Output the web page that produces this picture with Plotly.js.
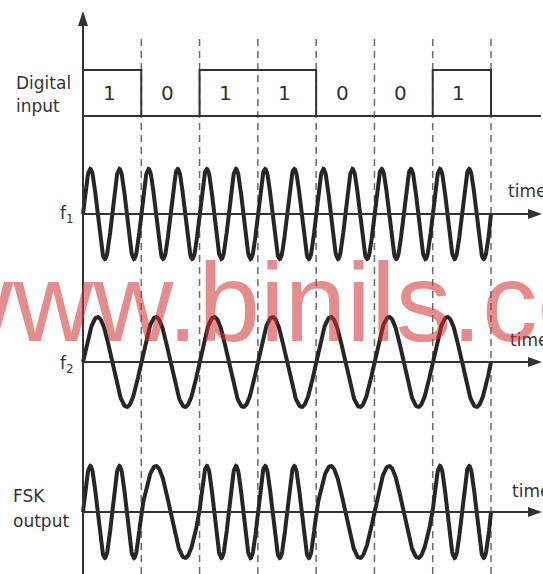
<!DOCTYPE html>
<html>
<head>
<meta charset="utf-8">
<script src="https://cdn.plot.ly/plotly-3.0.1.min.js"></script>
<style>html,body{margin:0;padding:0;background:#fff}#chart{width:543px;height:574px}</style>
</head>
<body>
<div id="chart"></div>
<script>
// ---- data ----
const bits = [1, 0, 1, 1, 0, 0, 1];
const bitLabels = ['1', '0', '1', '1', '0', '0', '1'];
const f1CyclesPerBit = 2;   // f1 carrier: 2 cycles per bit period
const f2CyclesPerBit = 1;   // f2 carrier: 1 cycle per bit period
const rowLabels = ['Digital', 'input', 'f<sub>1</sub>', 'f<sub>2</sub>', 'FSK', 'output'];
const axisLabel = 'time';
const watermark = 'www.binils.co';

// ---- geometry (layout only) ----
const W = 543, H = 574;
const x0px = 83, bitPx = (491 - 83) / 7;
const px2x = p => (p - x0px) / bitPx;
const py2paper = p => 1 - p / H;
const samplesPerBit = 120;

function carrier(cyclesFn) {
  const xs = [], ys = [];
  for (let i = 0; i < bits.length; i++) {
    for (let k = 0; k <= samplesPerBit; k++) {
      if (i > 0 && k === 0) continue;
      const local = k / samplesPerBit;
      xs.push(i + local);
      ys.push(Math.sin(2 * Math.PI * cyclesFn(bits[i]) * local));
    }
  }
  return {xs, ys};
}
const f1 = carrier(() => f1CyclesPerBit);
const f2 = carrier(() => f2CyclesPerBit);
const fsk = carrier(b => (b === 1 ? f1CyclesPerBit : f2CyclesPerBit));

// digital step
const dx = [0], dy = [0];
bits.forEach((b, i) => { dx.push(i); dy.push(b); });
dx.push(bits.length, bits.length); dy.push(bits[bits.length - 1], 0);

const waveStyle = {color: '#262626', width: 4};
const axisEnd = px2x(530);
const traces = [
  {x: dx, y: dy, type: 'scatter', mode: 'lines', line: {color: '#333', width: 2, shape: 'hv'}, xaxis: 'x', yaxis: 'y', hoverinfo: 'skip'},
  {x: f1.xs, y: f1.ys, type: 'scatter', mode: 'lines', line: waveStyle, xaxis: 'x', yaxis: 'y2', hoverinfo: 'skip'},
  {x: f2.xs, y: f2.ys, type: 'scatter', mode: 'lines', line: waveStyle, xaxis: 'x', yaxis: 'y3', hoverinfo: 'skip'},
  {x: fsk.xs, y: fsk.ys, type: 'scatter', mode: 'lines', line: waveStyle, xaxis: 'x', yaxis: 'y4', hoverinfo: 'skip'}
];

function dom(centerPx, ampPx, r) {
  const half = ampPx * r;
  return [py2paper(centerPx + half), py2paper(centerPx - half)];
}
const R = 1.25;
const hidden = {visible: false, fixedrange: true};
const layout = {
  width: W, height: H,
  margin: {l: 0, r: 0, t: 0, b: 0},
  paper_bgcolor: '#fff', plot_bgcolor: 'rgba(0,0,0,0)',
  showlegend: false,
  xaxis: Object.assign({range: [px2x(0), px2x(W)], anchor: 'y'}, hidden),
  yaxis: Object.assign({range: [-0.2, 1.2], domain: [py2paper(116 + 9.2), py2paper(70 - 9.2)], anchor: 'x'}, hidden),
  yaxis2: Object.assign({range: [-R, R], domain: dom(214, 45, R), anchor: 'x'}, hidden),
  yaxis3: Object.assign({range: [-R, R], domain: dom(362, 45, R), anchor: 'x'}, hidden),
  yaxis4: Object.assign({range: [-R, R], domain: dom(512, 46, R), anchor: 'x'}, hidden),
  shapes: [],
  annotations: []
};

// dashed bit boundaries
for (let k = 1; k <= bits.length; k++) {
  layout.shapes.push({type: 'line', xref: 'x', yref: 'paper', x0: k, x1: k, y0: 0, y1: py2paper(36),
    line: {color: '#6a6a6a', width: 1.5, dash: '7px,5px'}, layer: 'below'});
}
// digital baseline
layout.shapes.push({type: 'line', xref: 'x', yref: 'y', x0: 0, x1: px2x(541), y0: 0, y1: 0, line: {color: '#333', width: 2}});
// time axis lines + arrowheads
['y2', 'y3', 'y4'].forEach(ax => {
  layout.shapes.push({type: 'line', xref: 'x', yref: ax, x0: 0, x1: axisEnd, y0: 0, y1: 0, line: {color: '#333', width: 2}});
  layout.shapes.push({type: 'path', xref: 'x', yref: ax, xsizemode: 'pixel', ysizemode: 'pixel',
    xanchor: axisEnd, yanchor: 0, path: 'M -2,-5 L 12,0 L -2,5 Z', fillcolor: '#333', line: {width: 0}});
});
// vertical axis line + arrowhead
layout.shapes.push({type: 'line', xref: 'x', yref: 'paper', x0: 0, x1: 0, y0: 0, y1: py2paper(24), line: {color: '#333', width: 2}});
layout.shapes.push({type: 'path', xref: 'x', yref: 'paper', xsizemode: 'pixel', ysizemode: 'pixel',
  xanchor: 0, yanchor: py2paper(11), path: 'M -5,-15 L 0,0 L 5,-15 Z', fillcolor: '#333', line: {width: 0}});

const labFont = {family: 'DejaVu Sans, Arial, sans-serif', size: 17, color: '#333'};
function lab(text, xpx, ypx, size) {
  layout.annotations.push({xref: 'paper', yref: 'paper', x: xpx / W, y: py2paper(ypx), text: text,
    showarrow: false, xanchor: 'left', yanchor: 'middle', font: Object.assign({}, labFont, size ? {size} : {})});
}
lab(rowLabels[0], 14, 83);
lab(rowLabels[1], 14, 106);
lab(rowLabels[2], 58, 214, 17);
lab(rowLabels[3], 58, 364, 17);
lab(rowLabels[4], 11, 496);
lab(rowLabels[5], 11, 521);
lab(axisLabel, 506, 191);
lab(axisLabel, 508, 340);
lab(axisLabel, 510, 491);

// bit labels
bitLabels.forEach((t, i) => {
  layout.annotations.push({xref: 'x', yref: 'y', x: i + 0.45, y: 0.5, text: t, showarrow: false,
    xanchor: 'center', yanchor: 'middle', font: {family: 'DejaVu Sans, Arial, sans-serif', size: 20, color: '#333'}});
});

// watermark
layout.annotations.push({xref: 'paper', yref: 'paper', x: -70 / W, y: py2paper(303), text: watermark,
  showarrow: false, xanchor: 'left', yanchor: 'middle',
  font: {family: 'Liberation Sans, Arial, sans-serif', size: 111, color: 'rgba(212,45,45,0.55)'}});

Plotly.newPlot('chart', traces, layout, {displayModeBar: false, staticPlot: true});
</script>
</body>
</html>
